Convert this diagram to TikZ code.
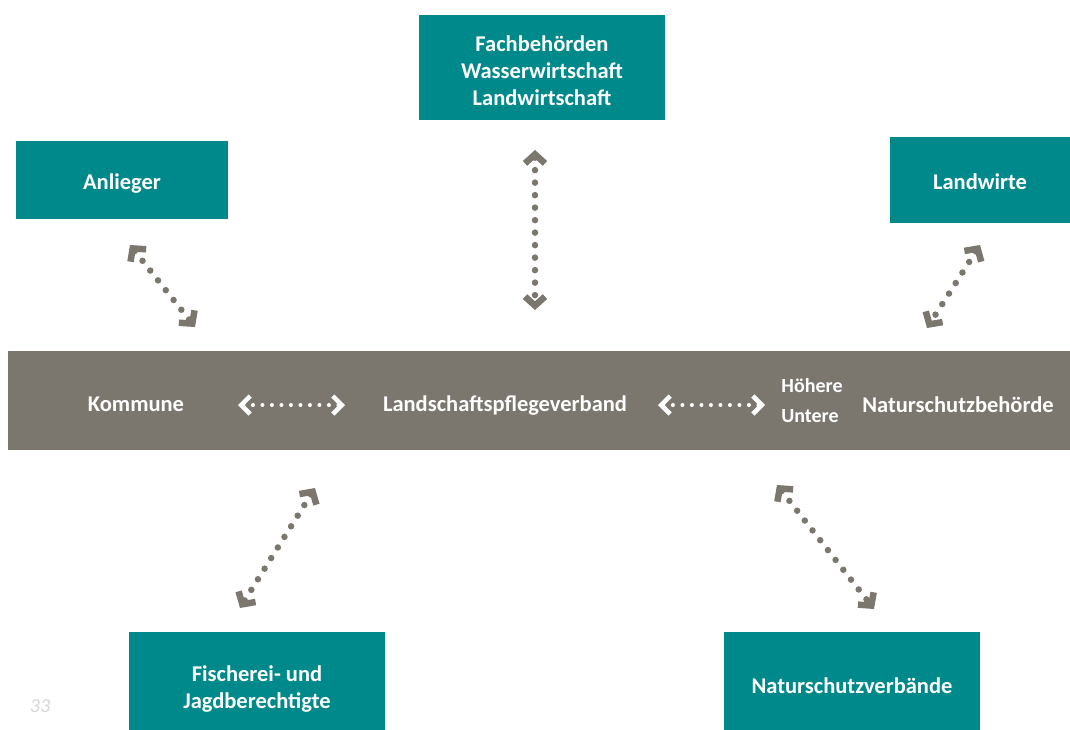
\documentclass[tikz,border=0pt]{standalone}
\usepackage{fontspec}
\setmainfont{Carlito}
\usetikzlibrary{arrows.meta}
\definecolor{boxteal}{RGB}{0,137,138}
\definecolor{bandgrey}{RGB}{123,119,111}
\definecolor{pagegrey}{RGB}{215,215,215}

\begin{document}
\begin{tikzpicture}[x=1pt,y=-1pt,
	box/.style = {fill=boxteal,inner sep=0pt},
	boxtext/.style = {text=white,font=\bfseries\fontsize{22.5}{27}\selectfont,align=center,inner sep=0pt},
	bandtext/.style = {text=white,font=\bfseries\fontsize{22.5}{27}\selectfont,inner sep=0pt},
	link/.style = {draw=bandgrey,line width=6.5pt,line cap=round,dash pattern=on 0pt off 12.5pt,{Straight Barb[length=9pt,width=20pt,line width=6.5pt,line cap=butt,line join=miter]}-{Straight Barb[length=9pt,width=20pt,line width=6.5pt,line cap=butt,line join=miter]}},
	inlink/.style = {draw=white,line width=4pt,line cap=round,dash pattern=on 0pt off 9.5pt,{Straight Barb[length=9pt,width=18pt,line width=4.5pt,line cap=butt,line join=miter]}-{Straight Barb[length=9pt,width=18pt,line width=4.5pt,line cap=butt,line join=miter]}}
	]
	\useasboundingbox (0,0) rectangle (1070,729);
	%BAND
	\node[fill=bandgrey,minimum width=1062pt,minimum height=99pt,inner sep=0pt] (@band) at (539,400.5) {};
	\node[bandtext] (@kom) at (136,404) {Kommune};
	\node[bandtext] (@lpv) at (505,406) {Landschaftspflegeverband};
	\node[bandtext,font=\bfseries\fontsize{20}{24}\selectfont] (@hoe) at (812,386) {Höhere};
	\node[bandtext,font=\bfseries\fontsize{20}{24}\selectfont] (@unt) at (810,416) {Untere};
	\node[bandtext] (@nsb) at (958,405) {Naturschutzbehörde};
	%KAESTEN
	\node[box,minimum width=246pt,minimum height=105pt,label={[boxtext,yshift=-3pt]center:Fachbehörden\\Wasserwirtschaft\\Landwirtschaft}] (@fach) at (542,67.5) {};
	\node[box,minimum width=212pt,minimum height=78pt,label={[boxtext,yshift=-4pt]center:Anlieger}] (@anl) at (122,180) {};
	\node[box,minimum width=180pt,minimum height=86pt,label={[boxtext,yshift=-2pt]center:Landwirte}] (@lw) at (980,180) {};
	\node[box,minimum width=256pt,minimum height=108pt,label={[boxtext,yshift=-2.5pt]center:Fischerei- und\\Jagdberechtigte}] (@fisch) at (257,686) {};
	\node[box,minimum width=256pt,minimum height=108pt,label={[boxtext]center:Naturschutzverbände}] (@nsv) at (852,686) {};
	%Seitenzahl
	\node[text=pagegrey,font=\itshape\fontsize{20}{22}\selectfont] (@page) at (40,706) {33};
	%Enden der Pfeile
	\coordinate (@f1) at (535,150);
	\coordinate (@f2) at (535,310);
	\coordinate (@a1) at (130,245);
	\coordinate (@a2) at (195,327);
	\coordinate (@l1) at (980,245);
	\coordinate (@l2) at (927,328);
	\coordinate (@s1) at (315,488);
	\coordinate (@s2) at (240,608);
	\coordinate (@v1) at (777,485);
	\coordinate (@v2) at (874,609);
	\coordinate (@k1) at (238,405);
	\coordinate (@k2) at (345,405);
	\coordinate (@n1) at (658,405);
	\coordinate (@n2) at (765,405);
	%Pfeile
	\draw[link] (@f1) -- (@f2);
	\draw[link] (@a1) -- (@a2);
	\draw[link] (@l1) -- (@l2);
	\draw[link] (@s1) -- (@s2);
	\draw[link] (@v1) -- (@v2);
	\draw[inlink] (@k1) -- (@k2);
	\draw[inlink] (@n1) -- (@n2);
\end{tikzpicture}
\end{document}
